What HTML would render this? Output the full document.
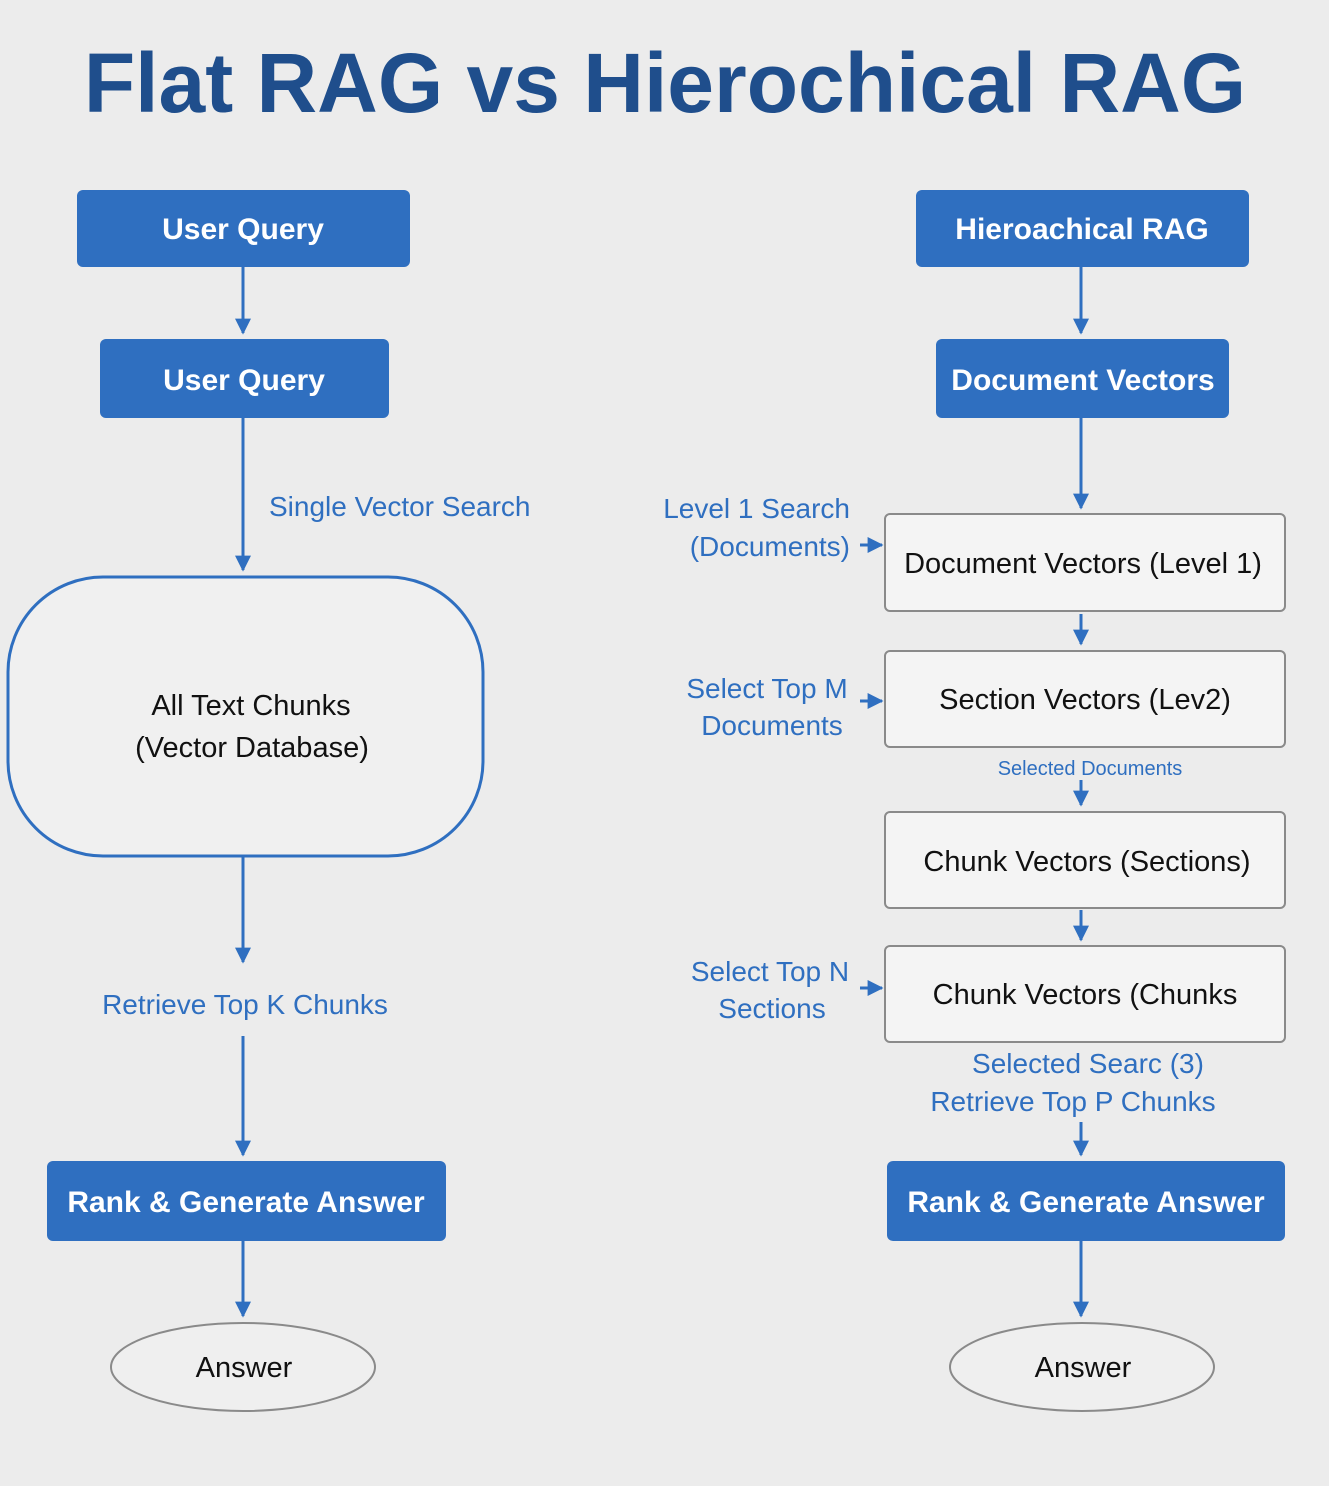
<!DOCTYPE html>
<html><head><meta charset="utf-8"><style>
html,body{margin:0;padding:0;background:#ececec;}
svg{display:block;}
text{font-family:"Liberation Sans","DejaVu Sans",sans-serif;}
</style></head><body>
<svg width="1329" height="1486" viewBox="0 0 1329 1486" xmlns="http://www.w3.org/2000/svg">
<defs>
<marker id="a" markerWidth="10" markerHeight="10" refX="8" refY="5" orient="auto" markerUnits="userSpaceOnUse"><path d="M0,0 L10,5 L0,10 z" fill="#2f6fc0"/></marker>
<marker id="b" viewBox="0 0 10 10" markerWidth="16" markerHeight="16" refX="9" refY="5" orient="auto" markerUnits="userSpaceOnUse"><path d="M0,0 L10,5 L0,10 z" fill="#2f6fc0"/></marker>
</defs>
<rect width="1329" height="1486" fill="#ececec"/>
<text x="665" y="112" text-anchor="middle" font-size="84" font-weight="bold" fill="#1f4e8c">Flat RAG vs Hierochical RAG</text>

<g fill="#2f6fc0">
<rect x="77" y="190" width="333" height="77" rx="6"/>
<rect x="100" y="339" width="289" height="79" rx="6"/>
<rect x="47" y="1161" width="399" height="80" rx="6"/>
<rect x="916" y="190" width="333" height="77" rx="6"/>
<rect x="936" y="339" width="293" height="79" rx="6"/>
<rect x="887" y="1161" width="398" height="80" rx="6"/>
</g>
<g fill="#fff" font-size="30" font-weight="bold" text-anchor="middle">
<text x="243" y="239">User Query</text>
<text x="244" y="390">User Query</text>
<text x="246" y="1212">Rank &amp; Generate Answer</text>
<text x="1082" y="239">Hieroachical RAG</text>
<text x="1083" y="390">Document Vectors</text>
<text x="1086" y="1212">Rank &amp; Generate Answer</text>
</g>

<g stroke="#2f6fc0" stroke-width="3" marker-end="url(#b)">
<line x1="243" y1="267" x2="243" y2="333"/>
<line x1="243" y1="418" x2="243" y2="570"/>
<line x1="243" y1="856" x2="243" y2="962"/>
<line x1="243" y1="1036" x2="243" y2="1155"/>
<line x1="243" y1="1241" x2="243" y2="1316"/>
<line x1="1081" y1="267" x2="1081" y2="333"/>
<line x1="1081" y1="418" x2="1081" y2="508"/>
<line x1="1081" y1="614" x2="1081" y2="644"/>
<line x1="1081" y1="780" x2="1081" y2="805"/>
<line x1="1081" y1="910" x2="1081" y2="940"/>
<line x1="1081" y1="1122" x2="1081" y2="1155"/>
<line x1="1081" y1="1241" x2="1081" y2="1316"/>
<line x1="860" y1="545" x2="882" y2="545"/>
<line x1="860" y1="701" x2="882" y2="701"/>
<line x1="860" y1="988" x2="882" y2="988"/>
</g>

<rect x="8" y="577" width="475" height="279" rx="95" fill="#f0f0f0" stroke="#2f6fc0" stroke-width="3"/>
<g font-size="29" fill="#111" text-anchor="middle">
<text x="251" y="715">All Text Chunks</text>
<text x="252" y="757">(Vector Database)</text>
</g>

<g fill="#f4f4f4" stroke="#8a8a8a" stroke-width="2">
<rect x="885" y="514" width="400" height="97" rx="5"/>
<rect x="885" y="651" width="400" height="96" rx="5"/>
<rect x="885" y="812" width="400" height="96" rx="5"/>
<rect x="885" y="946" width="400" height="96" rx="5"/>
<ellipse cx="243" cy="1367" rx="132" ry="44" fill="#efefef"/>
<ellipse cx="1082" cy="1367" rx="132" ry="44" fill="#efefef"/>
</g>
<g font-size="29" fill="#111" text-anchor="middle">
<text x="1083" y="573">Document Vectors (Level 1)</text>
<text x="1085" y="709">Section Vectors (Lev2)</text>
<text x="1087" y="871">Chunk Vectors (Sections)</text>
<text x="1085" y="1004">Chunk Vectors (Chunks</text>
<text x="244" y="1377">Answer</text>
<text x="1083" y="1377">Answer</text>
</g>

<g font-size="28" fill="#2f6fc0">
<text x="269" y="516">Single Vector Search</text>
<text x="245" y="1014" text-anchor="middle">Retrieve Top K Chunks</text>
<text x="850" y="518" text-anchor="end">Level 1 Search</text>
<text x="850" y="556" text-anchor="end">(Documents)</text>
<text x="767" y="698" text-anchor="middle">Select Top M</text>
<text x="772" y="735" text-anchor="middle">Documents</text>
<text x="770" y="981" text-anchor="middle">Select Top N</text>
<text x="772" y="1018" text-anchor="middle">Sections</text>
<text x="1088" y="1073" text-anchor="middle">Selected Searc (3)</text>
<text x="1073" y="1111" text-anchor="middle">Retrieve Top P Chunks</text>
<text x="1090" y="775" text-anchor="middle" font-size="20">Selected Documents</text>
</g>
</svg>
</body></html>
